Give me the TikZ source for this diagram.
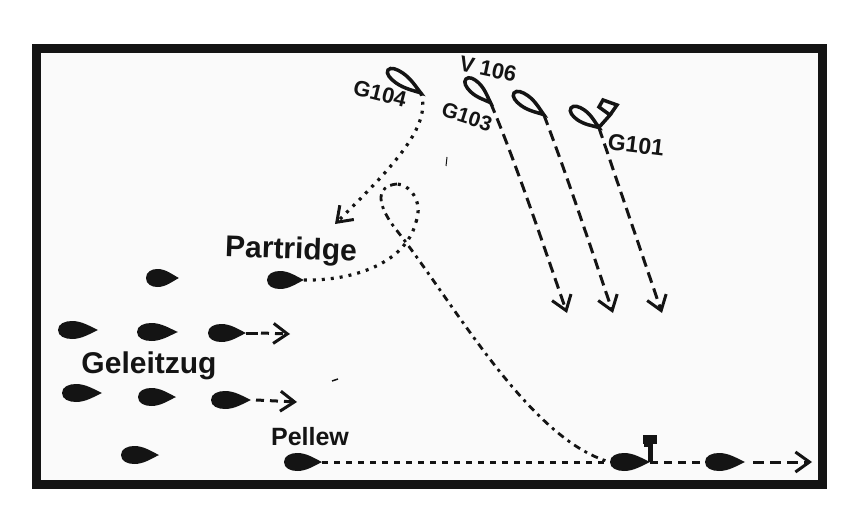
\documentclass[tikz,border=0pt]{standalone}
\usepackage{fontspec}
\setmainfont{Liberation Sans}
\usetikzlibrary{arrows.meta}
\definecolor{inkblack}{HTML}{141414}
\definecolor{paper}{HTML}{FAFAFA}
\tikzset{
  ship/.pic={
    \path[pic actions] (0,0) .. controls (0,-7) and (7,-10) .. (14,-10)
      .. controls (24,-10) and (32,-4) .. (40,0)
      .. controls (32,4) and (24,10) .. (14,10)
      .. controls (7,10) and (0,7) .. (0,0) -- cycle;
    \coordinate (-tip) at (40,0);
    \coordinate (-stern) at (0,0);
  },
  solidship/.style={fill=inkblack},
  outlineship/.style={draw=inkblack, fill=paper, line width=3.5pt, yscale=0.6},
  namelabel/.style={text=inkblack, font=\bfseries\fontsize{#1}{#1}\selectfont, inner sep=0pt},
  dotline/.style={draw=inkblack, line width=3.2pt, dash pattern=on 3pt off 6pt},
  dashline/.style={draw=inkblack, line width=3pt, dash pattern=on 11pt off 6pt},
  shortline/.style={draw=inkblack, line width=3pt, dash pattern=on 8pt off 6pt},
  dashdot/.style={draw=inkblack, line width=2.8pt, dash pattern=on 7pt off 5pt on 3pt off 5pt},
  barb/.style={-{Straight Barb[length=14pt,width=20pt,line width=3pt]}},
}
\begin{document}
\begin{tikzpicture}[x=1pt, y=-1pt]
\useasboundingbox (0,0) rectangle (860,532);

% Frame
\draw[inkblack, line width=9pt, fill=paper] (36,49) rectangle (822,484);

% Convoy and light ships
\foreach \shipname/\x/\y/\len in {a/146/278/0.82, b/58/330/1, c/137/332/1.02, d/208/333/0.95, e/62/393/1, f/138/397/0.95, g/211/400/1, h/121/455/0.95, partridge/267/280/0.92, pellew/284/462/0.95, lead/610/462/1, second/705/462/1} {
  \pic[solidship, xscale=\len, yscale=0.9] (\shipname) at (\x,\y) {ship};
}

% Destroyers
\pic[rotate=-35, outlineship] (gfour) at (388,70) {ship};
\pic[rotate=-44, outlineship, xscale=0.85] (gthree) at (466,79) {ship};
\pic[rotate=-36, outlineship, xscale=0.92] (gvi) at (514,93) {ship};
\pic[rotate=-35, outlineship, xscale=0.85] (gone) at (571,108) {ship};

% Free ends
\coordinate (gfourend) at (335,224);
\coordinate (gthreeend) at (567,313);
\coordinate (gviend) at (613,313);
\coordinate (goneend) at (662,313);
\coordinate (dend) at (290,334);
\coordinate (gend) at (297,402);
\coordinate (secondend) at (812,462);
\coordinate (looptop) at (397,184);
\coordinate (loopside) at (416,222);

% Courses
\draw[dotline, barb] (gfour-tip) .. controls (432,125) and (395,165) .. (gfourend);
\draw[dashline, barb] (gthree-tip) .. controls (515,160) and (545,250) .. (gthreeend);
\draw[dashline, barb] (gvi-tip) .. controls (565,170) and (590,245) .. (gviend);
\draw[dashline, barb] (gone-tip) -- (goneend);
\draw[inkblack, line width=3pt] (d-tip) -- ++(12,0);
\draw[shortline, barb] ([xshift=15pt]d-tip) -- (dend);
\draw[shortline, barb] ([xshift=5pt]g-tip) -- (gend);
\draw[dotline] (partridge-tip) .. controls (350,281) and (405,265) .. (loopside);
\draw[dotline] (loopside) .. controls (424,200) and (408,184) .. (looptop);
\draw[dashdot] (looptop) .. controls (375,186) and (376,205) .. (398,232)
  .. controls (455,305) and (530,440) .. (lead-stern);
\draw[shortline, dash pattern=on 6pt off 6pt] (pellew-tip) -- (lead-stern);
\draw[shortline] (lead-tip) -- (second-stern);
\draw[dashline, barb] ([xshift=8pt]second-tip) -- (secondend);

% Masts and flags
\draw[inkblack, line width=3.5pt, fill=paper] (gone-tip) -- (610,115) -- (599,107) -- (603,100) -- (617,105) -- (610,115);
\draw[inkblack, line width=5pt] (lead-tip) -- ++(0,-18) -- ++(-6,0);
\draw[inkblack, line width=9pt] ([xshift=-7pt,yshift=23pt]lead-tip) -- ++(14,0);

% Names
\node[namelabel=22, rotate=-14] (gfourlabel) at (380,94) {G104};
\node[namelabel=22, rotate=-12] (vlabel) at (488,69) {V 106};
\node[namelabel=21, rotate=-18] (gthreelabel) at (467,117) {G103};
\node[namelabel=23, rotate=-7] (gonelabel) at (636,145) {G101};
\node[namelabel=30, rotate=-2] (partridgelabel) at (291,251) {Partridge};
\node[namelabel=30] (convoylabel) at (149,366) {Geleitzug};
\node[namelabel=25] (pellewlabel) at (310,437) {Pellew};

% Specks
\draw[inkblack, line width=1pt] (447,157) -- (446,166);
\draw[inkblack, line width=1.5pt] (332,381) -- (338,379);

\end{tikzpicture}
\end{document}
